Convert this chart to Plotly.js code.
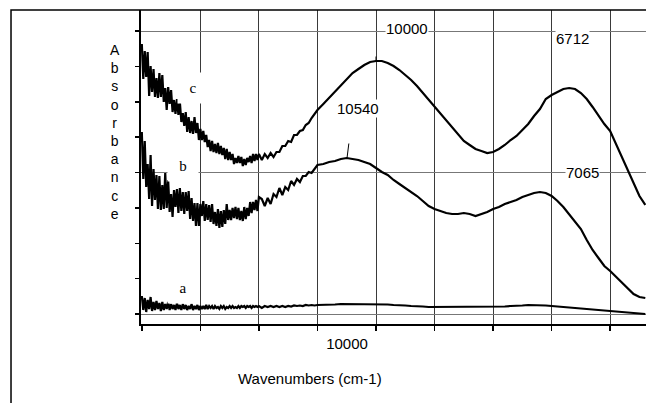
<!DOCTYPE html>
<html>
<head>
<meta charset="utf-8">
<script src="https://cdn.plot.ly/plotly-3.0.1.min.js"></script>
<style>html,body{margin:0;padding:0;background:#fff;}#chart{width:646px;height:403px;}</style>
</head>
<body>
<div id="chart"></div>
<script>
// Wavenumbers (cm-1), reversed axis
const wn = [14000,13975,13950,13925,13900,13875,13850,13825,13800,13775,
13750,13725,13700,13675,13650,13625,13600,13575,13550,13525,
13500,13475,13450,13425,13400,13375,13350,13325,13300,13275,
13250,13225,13200,13175,13150,13125,13100,13075,13050,13025,
13000,12975,12950,12925,12900,12875,12850,12825,12800,12775,
12750,12725,12700,12675,12650,12625,12600,12575,12550,12525,
12500,12475,12450,12425,12400,12375,12350,12325,12300,12275,
12250,12225,12200,12175,12150,12125,12100,12075,12050,12025,
12000,
11950,11900,11850,11800,11750,11700,11650,11600,11550,11500,
11450,11400,11350,11300,11250,11200,11150,11100,11050,11000,
10900,10800,10700,10600,10500,10400,10300,10200,10100,10000,
9900,9800,9700,9600,9500,9400,9300,9200,9100,9000,
8900,8800,8700,8600,8500,8400,8300,8200,8100,8000,
7900,7800,7700,7600,7500,7400,7300,7200,7100,7000,
6900,6800,6700,6600,6500,6400,6300,6200,6100,6000,
5900,5800,5700,5600,5500,5400];

// Spectrum c (top)
const absC = [2.70,2.35,2.63,2.37,2.62,2.18,2.48,2.22,2.45,2.17,
2.36,2.16,2.41,2.17,2.39,2.12,2.26,2.04,2.27,2.10,
2.24,2.02,2.14,2.00,2.15,1.99,2.12,1.92,2.01,1.88,
2.02,1.82,1.97,1.81,1.93,1.80,1.97,1.81,1.91,1.74,
1.85,1.74,1.83,1.72,1.79,1.67,1.74,1.63,1.73,1.62,
1.70,1.61,1.71,1.60,1.68,1.59,1.66,1.55,1.65,1.54,
1.62,1.54,1.60,1.50,1.56,1.51,1.58,1.51,1.57,1.48,
1.55,1.49,1.56,1.52,1.58,1.51,1.60,1.53,1.60,1.54,
1.60,
1.54,1.60,1.56,1.61,1.57,1.62,1.62,1.68,1.68,1.73,
1.72,1.79,1.79,1.83,1.84,1.89,1.91,1.96,2.00,2.04,
2.10,2.16,2.23,2.29,2.35,2.41,2.45,2.49,2.52,2.53,
2.53,2.51,2.48,2.44,2.39,2.34,2.28,2.21,2.14,2.07,
2.00,1.93,1.86,1.79,1.73,1.69,1.65,1.63,1.61,1.62,
1.65,1.69,1.74,1.78,1.84,1.90,1.98,2.05,2.15,2.19,
2.22,2.25,2.26,2.25,2.21,2.15,2.07,1.98,1.90,1.83,
1.70,1.58,1.45,1.32,1.18,1.09];

// Spectrum b (middle)
const absB = [1.82,1.35,1.73,1.27,1.50,1.15,1.59,1.08,1.45,1.14,
1.39,1.05,1.38,1.04,1.29,1.05,1.41,1.06,1.34,1.02,
1.20,0.97,1.24,1.07,1.25,1.01,1.26,1.03,1.22,1.00,
1.22,1.03,1.23,0.95,1.16,0.93,1.11,0.88,1.11,0.88,
1.10,0.98,1.13,0.93,1.10,0.94,1.09,0.92,1.10,0.90,
1.02,0.88,1.05,0.86,1.03,0.87,1.04,0.90,1.10,0.94,
1.04,0.94,1.06,0.96,1.07,0.95,1.06,0.94,1.03,0.93,
1.07,0.95,1.06,0.98,1.12,1.01,1.12,1.04,1.14,1.03,
1.17,
1.15,1.08,1.16,1.10,1.20,1.17,1.26,1.19,1.27,1.24,
1.33,1.29,1.35,1.32,1.38,1.38,1.42,1.41,1.45,1.49,
1.50,1.52,1.53,1.55,1.56,1.55,1.54,1.52,1.50,1.46,
1.42,1.39,1.34,1.30,1.26,1.22,1.18,1.13,1.08,1.05,
1.03,1.01,1.00,1.00,1.01,1.00,0.98,1.00,1.02,1.05,
1.07,1.10,1.12,1.14,1.17,1.19,1.21,1.22,1.21,1.18,
1.13,1.07,1.00,0.93,0.85,0.74,0.64,0.56,0.48,0.43,
0.37,0.31,0.25,0.20,0.17,0.16];

// Spectrum a (bottom)
const absA = [0.18,0.04,0.16,0.02,0.14,0.05,0.17,0.03,0.12,0.04,
0.13,0.05,0.11,0.03,0.12,0.04,0.10,0.05,0.12,0.04,
0.10,0.05,0.09,0.04,0.11,0.05,0.09,0.04,0.10,0.05,
0.09,0.04,0.08,0.05,0.10,0.04,0.08,0.05,0.09,0.04,
0.08,0.05,0.08,0.05,0.09,0.05,0.08,0.06,0.08,0.05,
0.08,0.06,0.07,0.05,0.08,0.06,0.08,0.05,0.07,0.06,
0.08,0.06,0.08,0.06,0.07,0.06,0.08,0.06,0.08,0.07,
0.08,0.06,0.08,0.07,0.08,0.06,0.08,0.07,0.08,0.07,
0.08,
0.06,0.08,0.07,0.08,0.07,0.08,0.07,0.08,0.07,0.08,
0.075,0.085,0.08,0.085,0.08,0.09,0.085,0.09,0.085,0.09,
0.09,0.095,0.095,0.10,0.10,0.10,0.10,0.10,0.10,0.10,
0.10,0.095,0.09,0.09,0.085,0.08,0.08,0.075,0.07,0.07,
0.07,0.07,0.07,0.07,0.07,0.07,0.07,0.07,0.07,0.07,
0.075,0.075,0.08,0.08,0.085,0.09,0.09,0.09,0.085,0.08,
0.075,0.07,0.065,0.06,0.05,0.045,0.04,0.035,0.03,0.03,
0.025,0.02,0.015,0.01,0.005,0.0];

const xTickVals = [14000,13000,12000,11000,10000,9000,8000,7000,6000];
const xTickText = ['','','','','10000','','','',''];

// Curve letters
const curveNames = ['a','b','c'];
const curveLabelX = [13296,13300,13126];
const curveLabelY = [0.26,1.48,2.26];

// Peak labels
const peakText = ['10000','6712','10540','7065'];
const peakLabelX = [9470,6644,10307,6465];
const peakLabelY = [2.86,2.76,2.06,1.42];
// Peak markers (point on curve)
const markX = [10000,10495];
const markY = [2.52,1.56];

const blk = '#000';
const traces = [absA, absB, absC].map((ys, i) => ({
  type: 'scatter', mode: 'lines', x: wn, y: ys, name: curveNames[i],
  line: {color: blk, width: 2.2}, hoverinfo: 'skip', showlegend: false
}));

const sans = 'Liberation Sans, Arial, sans-serif';
const annotations = [];
curveNames.forEach((t, i) => annotations.push({
  x: curveLabelX[i], y: curveLabelY[i], xref: 'x', yref: 'y', text: t, showarrow: false,
  font: {family: 'Liberation Serif, Times New Roman, serif', size: 15, color: blk},
  bgcolor: '#fff', width: 28, height: 28
}));
peakText.forEach((t, i) => annotations.push({
  x: peakLabelX[i], y: peakLabelY[i], xref: 'x', yref: 'y', text: t, showarrow: false,
  font: {family: sans, size: 15, color: blk},
  bgcolor: '#fff', borderpad: 0
}));
annotations.push({x: markX[0], y: markY[0], xref: 'x', yref: 'y', text: '', showarrow: true,
  arrowhead: 0, arrowwidth: 1, arrowcolor: blk, ax: 0, ay: -7});
annotations.push({x: markX[1], y: markY[1], xref: 'x', yref: 'y', text: '', showarrow: true,
  arrowhead: 0, arrowwidth: 1, arrowcolor: blk, ax: 2, ay: -16});
// Axis titles
annotations.push({xref: 'paper', yref: 'paper', x: -0.0515, y: 0.61, xanchor: 'center', yanchor: 'middle',
  align: 'center', showarrow: false,
  text: 'A<br>b<br>s<br>o<br>r<br>b<br>a<br>n<br>c<br>e',
  font: {family: sans, size: 14, color: blk}});
annotations.push({xref: 'paper', yref: 'paper', x: 0.3347, y: -0.175, xanchor: 'center', yanchor: 'middle',
  showarrow: false, text: 'Wavenumbers (cm-1)',
  font: {family: sans, size: 15, color: blk}});

const layout = {
  width: 646, height: 403,
  margin: {l: 141, r: 0, t: 10, b: 79, pad: 0},
  paper_bgcolor: '#fff', plot_bgcolor: '#fff',
  showlegend: false,
  xaxis: {
    range: [14014, 5388], tickvals: xTickVals, ticktext: xTickText,
    ticks: 'outside', ticklen: 5, tickwidth: 1.5, tickcolor: blk,
    ticklabelshift: 29,
    showline: true, linecolor: blk, linewidth: 2,
    showgrid: true, gridcolor: '#3a3a3a', gridwidth: 1, zeroline: false,
    tickfont: {family: sans, size: 15, color: blk}
  },
  yaxis: {
    range: [-0.10, 3.04], tick0: 0, dtick: 1.415,
    ticks: 'outside', ticklen: 4, tickwidth: 1.5, tickcolor: blk, showticklabels: false,
    minor: {dtick: 0.35375, ticks: 'outside', ticklen: 4, tickwidth: 1.5, tickcolor: blk, showgrid: false},
    showline: true, linecolor: blk, linewidth: 2,
    showgrid: true, gridcolor: '#777', gridwidth: 1, zeroline: false
  },
  shapes: [{type: 'rect', xref: 'paper', yref: 'paper', x0: -0.2574, x1: 1.2, y0: -0.5, y1: 1.0,
    line: {color: blk, width: 1.5}, fillcolor: 'rgba(0,0,0,0)', layer: 'above'}],
  annotations: annotations
};

Plotly.newPlot('chart', traces, layout, {displayModeBar: false, staticPlot: true});
</script>
</body>
</html>
